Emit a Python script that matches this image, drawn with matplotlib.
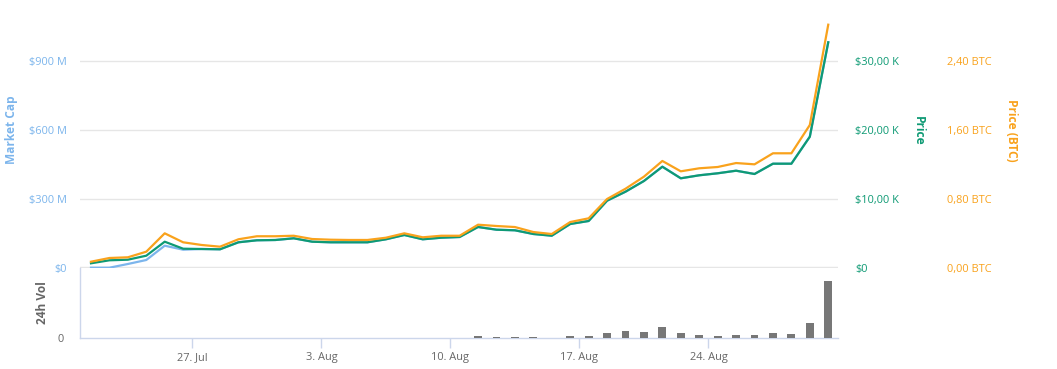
import matplotlib
matplotlib.use("Agg")
import matplotlib.pyplot as plt
import matplotlib.dates as mdates
import pandas as pd

# ---------------- data ----------------
dates = pd.date_range("2020-07-21 12:00", periods=41, freq="D")

price_usd = [681, 1116, 1203, 1783, 3812, 2797, 2754, 2710, 3725, 4015,
             4058, 4304, 3812, 3725, 3725, 3725, 4159, 4783, 4159, 4391,
             4493, 5942, 5551, 5464, 4928, 4681, 6377, 6812, 9754, 11058,
             12609, 14681, 13000, 13435, 13725, 14101, 13623, 15116, 15116, 19029,
             32710]

market_cap_m = [1.3, 1.3, 17.4, 34.8, 97.0, 79.6, 82.6, 81.3, 111.8, 120.5,
                121.7, 129.1, 114.4, 111.8, 111.8, 111.8, 124.8, 143.5, 124.8, 131.7,
                134.8, 178.3, 166.5, 163.9, 147.8, 140.4, 191.3, 204.4, 292.6, 331.7,
                378.3, 440.4, 390.0, 403.1, 411.8, 423.0, 408.7, 453.5, 453.5, 570.9,
                981.3]

price_btc = [0.073, 0.116, 0.124, 0.189, 0.402, 0.298, 0.267, 0.247, 0.333, 0.368,
             0.368, 0.374, 0.336, 0.328, 0.325, 0.325, 0.351, 0.402, 0.356, 0.374,
             0.374, 0.502, 0.487, 0.475, 0.417, 0.394, 0.533, 0.576, 0.800, 0.919,
             1.059, 1.241, 1.121, 1.156, 1.171, 1.217, 1.202, 1.330, 1.330, 1.658,
             2.821]

volume = [0, 0, 0, 0, 0, 0, 0, 0, 0, 0,
          0, 0, 0, 0, 0, 0, 0, 0, 0, 0,
          0, 0.9, 0.4, 0.4, 0.4, 0, 0.9, 0.9, 2.1, 3.0,
          2.6, 4.7, 2.1, 1.3, 0.9, 1.3, 1.3, 2.1, 1.7, 6.4,
          24.4]

mcap_ticks = [0, 300, 600, 900]
mcap_labels = ["$0", "$300 M", "$600 M", "$900 M"]
price_ticks = [0, 10000, 20000, 30000]
price_labels = ["$0", "$10,00 K", "$20,00 K", "$30,00 K"]
btc_ticks = [0, 0.8, 1.6, 2.4]
btc_labels = ["0,00 BTC", "0,80 BTC", "1,60 BTC", "2,40 BTC"]
xtick_dates = pd.to_datetime(["2020-07-27", "2020-08-03", "2020-08-10",
                              "2020-08-17", "2020-08-24"])
xtick_labels = ["27. Jul", "3. Aug", "10. Aug", "17. Aug", "24. Aug"]

# ---------------- style ----------------
C_BLUE = "#7cb5ec"
C_GREEN = "#0e9a74"
C_ORANGE = "#f9a21c"
C_BAR = "#777777"
C_GRID = "#e6e6e6"
C_AXIS = "#ccd6eb"
C_TEXT = "#666666"

plt.rcParams["font.family"] = ["Open Sans", "DejaVu Sans"]
FS = 7.9

W, H = 1057, 369
fig = plt.figure(figsize=(W / 100, H / 100), dpi=100)

def fx(px):
    return px / W

def fy(py):
    return 1 - py / H

left_px, right_px = 80, 838
main_top, main_bot = 10, 268
vol_top, vol_bot = 268, 338

ax = fig.add_axes([fx(left_px), fy(main_bot), fx(right_px - left_px), (main_bot - main_top) / H])
axv = fig.add_axes([fx(left_px), fy(vol_bot), fx(right_px - left_px), (vol_bot - vol_top) / H], sharex=ax)
ax2 = ax.twinx()
ax3 = ax.twinx()

x0 = dates[0] - pd.Timedelta(hours=14.3)
x1 = dates[-1] + pd.Timedelta(hours=12.7)
ax.set_xlim(x0, x1)

scale = (main_bot - main_top) / (main_bot - 61)
ax.set_ylim(0, 900 * scale)
ax2.set_ylim(0, 30000 * scale)
ax3.set_ylim(0, 2.4 * scale)

for a in (ax, ax2, ax3):
    for s in a.spines.values():
        s.set_visible(False)
    a.patch.set_visible(False)

# grid lines
for t in mcap_ticks[1:]:
    ax.axhline(t, color=C_GRID, lw=1, zorder=0)
ax.axhline(0, color=C_GRID, lw=2.5, zorder=0)

# lines
ax.plot(dates, market_cap_m, color=C_BLUE, lw=1.6, zorder=3, solid_joinstyle="round")
ax2.plot(dates, price_usd, color=C_GREEN, lw=1.6, zorder=4, solid_joinstyle="round")
ax3.plot(dates, price_btc, color=C_ORANGE, lw=1.6, zorder=5, solid_joinstyle="round")

# ticks
ax.set_yticks(mcap_ticks)
ax.set_yticklabels(mcap_labels)
ax.tick_params(axis="y", length=0, pad=9.5, labelsize=FS, labelcolor=C_BLUE)
ax.tick_params(axis="x", bottom=False, labelbottom=False)

ax2.set_yticks(price_ticks)
ax2.set_yticklabels(price_labels)
ax2.tick_params(axis="y", length=0, pad=12.2, labelsize=FS, labelcolor=C_GREEN)

ax3.set_yticks(btc_ticks)
ax3.set_yticklabels(btc_labels)
ax3.tick_params(axis="y", length=0, pad=78.5, labelsize=FS, labelcolor=C_ORANGE)

# volume pane
axv.bar(dates, volume, width=0.43, color=C_BAR, zorder=3)
axv.set_ylim(0, 30)
axv.set_yticks([0])
axv.set_yticklabels(["0"])
axv.tick_params(axis="y", length=0, pad=11.5, labelsize=FS, labelcolor=C_TEXT)
for k in ("top", "right"):
    axv.spines[k].set_visible(False)
axv.spines["left"].set_color(C_AXIS)
axv.spines["bottom"].set_color(C_AXIS)
axv.spines["left"].set_linewidth(1)
axv.spines["bottom"].set_linewidth(1)
axv.patch.set_visible(False)
axv.set_xticks(xtick_dates)
axv.set_xticklabels(xtick_labels)
axv.tick_params(axis="x", length=7, width=1, color=C_AXIS, pad=3,
                labelsize=FS, labelcolor=C_TEXT)

# axis titles
fig.text(fx(11), fy(130), "Market Cap", rotation=90, color=C_BLUE,
         fontsize=8.6, fontweight="bold", ha="center", va="center")
fig.text(fx(42), fy(303), "24h Vol", rotation=90, color=C_TEXT,
         fontsize=8.6, fontweight="bold", ha="center", va="center")
fig.text(fx(918), fy(131), "Price", rotation=-90, color=C_GREEN,
         fontsize=8.6, fontweight="bold", ha="center", va="center")
fig.text(fx(1012), fy(130), "Price (BTC)", rotation=-90, color=C_ORANGE,
         fontsize=8.6, fontweight="bold", ha="center", va="center")

fig.savefig("out.png", dpi=100)
